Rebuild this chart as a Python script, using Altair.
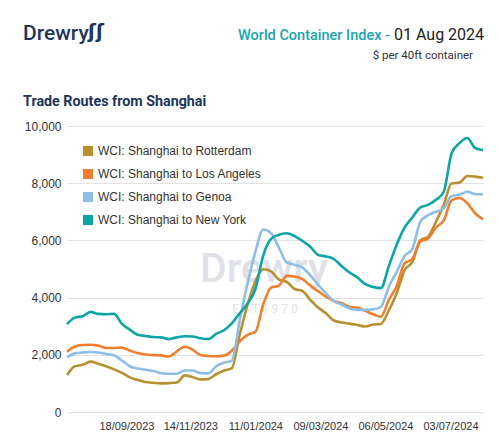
import altair as alt
import pandas as pd

# Weekly WCI readings (Thursdays), USD per 40ft container
week = [
    "2023-07-27", "2023-08-03", "2023-08-10", "2023-08-17", "2023-08-24", "2023-08-31",
    "2023-09-07", "2023-09-14", "2023-09-21", "2023-09-28", "2023-10-05", "2023-10-12",
    "2023-10-19", "2023-10-26", "2023-11-02", "2023-11-09", "2023-11-16", "2023-11-23",
    "2023-11-30", "2023-12-07", "2023-12-14", "2023-12-21", "2023-12-28", "2024-01-04",
    "2024-01-11", "2024-01-18", "2024-01-25", "2024-02-01", "2024-02-08", "2024-02-15",
    "2024-02-22", "2024-02-29", "2024-03-07", "2024-03-14", "2024-03-21", "2024-03-28",
    "2024-04-04", "2024-04-11", "2024-04-18", "2024-04-25", "2024-05-02", "2024-05-09",
    "2024-05-16", "2024-05-23", "2024-05-30", "2024-06-06", "2024-06-13", "2024-06-20",
    "2024-06-27", "2024-07-04", "2024-07-11", "2024-07-18", "2024-07-25", "2024-08-01",
]

rotterdam = [
    1290, 1600, 1650, 1760, 1690, 1600, 1490, 1370, 1210, 1120, 1050, 1020,
    1000, 1010, 1030, 1280, 1220, 1140, 1150, 1320, 1450, 1530, 2700, 3750,
    4560, 4990, 4920, 4630, 4550, 4300, 4230, 3920, 3650, 3450, 3200, 3130,
    3090, 3040, 2990, 3060, 3080, 3550, 4150, 4950, 5250, 6000, 6130, 6650,
    7250, 7990, 8020, 8250, 8230, 8193,
]
los_angeles = [
    2110, 2290, 2340, 2350, 2320, 2240, 2240, 2250, 2150, 2060, 2010, 1990,
    1980, 1940, 2120, 2280, 2180, 1990, 1960, 1950, 1970, 2140, 2470, 2700,
    2800, 3760, 4350, 4420, 4760, 4740, 4650, 4420, 4220, 4030, 3880, 3800,
    3680, 3650, 3540, 3420, 3330, 3920, 4400, 5200, 5350, 5950, 6070, 6450,
    6700, 7400, 7480, 7300, 6950, 6734,
]
genoa = [
    1910, 2050, 2080, 2100, 2080, 2030, 1980, 1800, 1600, 1520, 1480, 1430,
    1360, 1340, 1340, 1450, 1450, 1360, 1350, 1600, 1720, 1800, 3200, 4500,
    5600, 6380, 6250, 5750, 5230, 5150, 5050, 4780, 4450, 4150, 3880, 3750,
    3620, 3570, 3570, 3590, 3680, 4380, 4900, 5450, 5700, 6650, 6880, 7000,
    7120, 7550, 7600, 7700, 7620, 7603,
]
new_york = [
    3070, 3300, 3350, 3500, 3430, 3420, 3430, 3080, 2880, 2700, 2660, 2620,
    2610, 2550, 2610, 2650, 2640, 2580, 2550, 2730, 2860, 3100, 3450, 3790,
    4300, 5470, 6050, 6200, 6250, 6150, 5980, 5780, 5490, 5440, 5350, 5100,
    4880, 4700, 4470, 4370, 4330, 5100, 5850, 6450, 6800, 7150, 7240, 7420,
    7700, 9050, 9400, 9580, 9230, 9157,
]

routes = [
    "WCI: Shanghai to Rotterdam",
    "WCI: Shanghai to Los Angeles",
    "WCI: Shanghai to Genoa",
    "WCI: Shanghai to New York",
]
route_colors = ["#B8902F", "#F07F2D", "#8DBFE6", "#0BA5A7"]

tick_dates = [(2023, 9, 18), (2023, 11, 14), (2024, 1, 11), (2024, 3, 9), (2024, 5, 6), (2024, 7, 3)]
y_ticks = [0, 2000, 4000, 6000, 8000, 10000]

rows = []
for route, values in zip(routes, [rotterdam, los_angeles, genoa, new_york]):
    for d, v in zip(week, values):
        rows.append({"week": d, "route": route, "rate": v})
df = pd.DataFrame(rows)

NAVY = "#1E355E"
TEAL = "#1AA5B1"
AXIS_TXT = "#333333"
LABEL_FONT = "Liberation Sans"
HEAD_FONT = "Roboto"

x_enc = alt.X(
    "week:T",
    scale=alt.Scale(
        type="utc",
        domain=[alt.DateTime(year=2023, month=7, date=27, utc=True),
                alt.DateTime(year=2024, month=8, date=1, utc=True)],
        nice=False,
    ),
    axis=alt.Axis(
        values=[alt.DateTime(year=y, month=m, date=d, utc=True) for y, m, d in tick_dates],
        format="%d/%m/%Y", title=None, grid=False, domain=False, ticks=False,
        labelPadding=8, labelFontSize=11, labelColor=AXIS_TXT, labelFont=LABEL_FONT,
    ),
)
y_enc = alt.Y(
    "rate:Q",
    scale=alt.Scale(domain=[0, 10000], nice=False),
    axis=alt.Axis(
        values=y_ticks, format=",d", title=None, domain=False, ticks=False,
        labelPadding=6, gridColor="#E2E2E2", gridWidth=1,
        labelFontSize=12, labelColor=AXIS_TXT, labelFont=LABEL_FONT,
    ),
)
color_scale = alt.Scale(domain=routes, range=route_colors)

# invisible squares that carry the legend, so the swatches are filled boxes
swatches = alt.Chart(df).mark_square(opacity=0, size=1).encode(
    x=x_enc, y=y_enc,
    color=alt.Color(
        "route:N", scale=color_scale,
        legend=alt.Legend(
            title=None, orient="none", legendX=15, legendY=19,
            symbolType="square", symbolSize=100, symbolOpacity=1, symbolStrokeWidth=0,
            labelFontSize=12, labelFont=LABEL_FONT, labelColor=AXIS_TXT, labelLimit=0,
            rowPadding=11, labelOffset=4,
        ),
    ),
)

lines = alt.Chart(df).mark_line(strokeWidth=2.6, interpolate="monotone").encode(
    x=x_enc, y=y_enc,
    color=alt.Color("route:N", scale=color_scale),
)

one = pd.DataFrame({"k": [0]})


def label(text, x, y, size, color, weight="normal", align="left", font=HEAD_FONT):
    return alt.Chart(one).mark_text(
        text=text, x=x, y=y, fontSize=size, color=color, fontWeight=weight,
        align=align, baseline="alphabetic", font=font,
    )


watermark = label("Drewry", 197, 156, 41, "#DFE0E8", weight=500, align="center")
watermark_est = label("E S T  1 9 7 0", 198, 187, 12, "#E2E2E8", align="center")

logo = label("Drewry", -44, -86, 21, NAVY, weight=500)
logo_mark = label("ʃʃ", 21, -88, 19, NAVY, weight="bold", font="DejaVu Sans")
index_name = label("World Container Index -", 323, -86, 14.5, TEAL, weight=500, align="right")
index_date = label("01 Aug 2024", 327, -86, 16, "#222222", align="left")
unit = label("$ per 40ft container", 406, -67, 11.5, "#333333", align="right")
subtitle = label("Trade Routes from Shanghai", -44, -20, 14.3, NAVY, weight="bold")

chart = alt.layer(
    watermark, watermark_est, swatches, lines,
    logo, logo_mark, index_name, index_date, unit, subtitle,
).properties(
    width=416, height=286,
    padding={"left": 67, "top": 126, "right": 16, "bottom": 29},
    autosize=alt.AutoSizeParams(type="none"),
    background="white",
).configure_view(stroke=None)

chart.save("out.html", embed_options={"renderer": "svg", "actions": False})
